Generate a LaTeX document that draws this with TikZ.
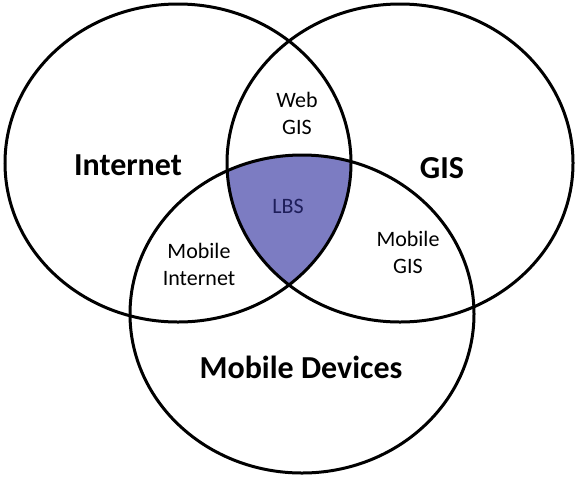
\documentclass[tikz,border=0pt]{standalone}
\usepackage{fontspec}
\setmainfont{Carlito}
\definecolor{lbsfill}{RGB}{124,124,194}
\definecolor{lbstext}{RGB}{30,30,90}
\begin{document}
\begin{tikzpicture}[x=1pt,y=-1pt]
  \tikzstyle{every node}+=[inner sep=0pt, align=center]
  \tikzstyle{big label}=[font=\fontsize{32}{38}\selectfont\bfseries]
  \tikzstyle{small label}=[font=\fontsize{22}{27}\selectfont]
  \useasboundingbox (0,0) rectangle (577,480);
  \coordinate (internet) at (178,163);
  \coordinate (gis) at (400,163);
  \coordinate (mobile) at (302,314);
  % the common part of all three
  \begin{scope}
    \clip (internet) ellipse (173 and 159);
    \clip (gis) ellipse (173 and 159);
    \fill [lbsfill] (mobile) ellipse (172 and 159);
  \end{scope}
  \draw [black, line width=3pt] (internet) ellipse (173 and 159);
  \draw [black, line width=3pt] (gis) ellipse (173 and 159);
  \draw [black, line width=3pt] (mobile) ellipse (172 and 159);
  \node [big label] (internetlabel) at (128,165) {Internet};
  \node [big label] (gislabel) at (442,168) {GIS};
  \node [big label] (mobilelabel) at (301,367) {Mobile Devices};
  \node [small label] (webgis) at (297,113) {Web\\GIS};
  \node [small label, text=lbstext] (lbs) at (288,206) {LBS};
  \node [small label] (mobinternet) at (199,264) {Mobile\\Internet};
  \node [small label] (mobgis) at (408,252) {Mobile\\GIS};
\end{tikzpicture}
\end{document}
